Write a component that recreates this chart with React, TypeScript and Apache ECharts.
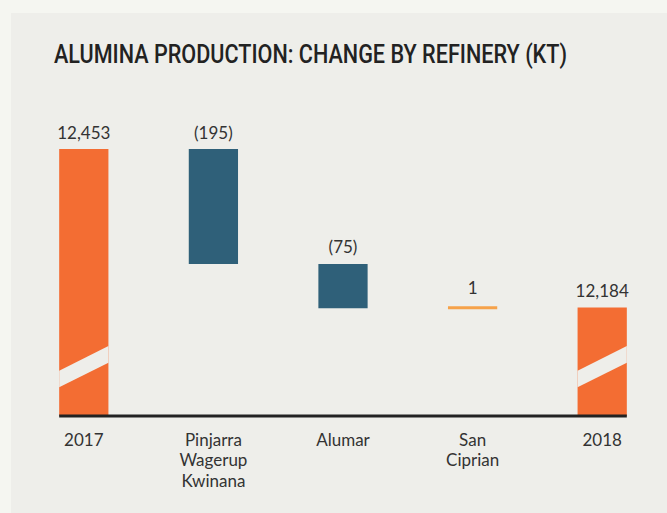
import React, { useEffect, useRef } from "react";
import * as echarts from "echarts";

const categories = ["2017", "Pinjarra\nWagerup\nKwinana", "Alumar", "San\nCiprian", "2018"];
const changes = [12453, -195, -75, 1, 12184];
const kinds = ["total", "delta", "delta", "delta", "total"];
const valueLabels = ["12,453", "(195)", "(75)", "1", "12,184"];
const axisMin = 12000;
const axisMax = 12500;

const ORANGE = "#f36d33";
const BLUE = "#2f6079";
const LIGHT_ORANGE = "#f6a24a";
const PANEL = "#eeeeea";
const OUTER = "#f5f6f1";
const FONT = "Lato, 'Open Sans', sans-serif";

export default function App() {
  const ref = useRef<HTMLDivElement>(null);
  useEffect(() => {
    document.body.style.margin = "0";
    document.body.style.background = OUTER;
    const chart = echarts.init(ref.current!, null, { renderer: "svg" });

    const rows: any[] = [];
    let running = 0;
    changes.forEach((v, i) => {
      if (kinds[i] === "total") {
        rows.push([i, axisMin, v, kinds[i], valueLabels[i]]);
        running = v;
      } else {
        const s = running;
        const e = running + v;
        rows.push([i, Math.min(s, e), Math.max(s, e), v < 0 ? "neg" : "pos", valueLabels[i]]);
        running = e;
      }
    });

    chart.setOption({
      animation: false,
      backgroundColor: OUTER,
      graphic: [
        { type: "rect", z: -10, shape: { x: 11, y: 13, width: 700, height: 520 }, style: { fill: PANEL } },
        {
          type: "text",
          x: 54,
          y: 54.5,
          scaleX: 0.865,
          style: {
            text: "ALUMINA PRODUCTION: CHANGE BY REFINERY (KT)",
            fontFamily: "Roboto, sans-serif",
            fontWeight: 500,
            fontSize: 25,
            fill: "#222",
            textVerticalAlign: "middle",
          },
        },
      ],
      grid: { left: 19, width: 652, top: 121.3, bottom: 97 },
      xAxis: {
        type: "category",
        data: categories,
        axisLine: { show: false },
        axisTick: { show: false },
        axisLabel: { color: "#333", fontSize: 17, fontFamily: FONT, lineHeight: 20.5, margin: 13 },
      },
      yAxis: { type: "value", min: axisMin, max: axisMax, show: false, splitLine: { show: false } },
      series: [
        {
          type: "custom",
          clip: false,
          data: rows,
          renderItem: (params: any, api: any) => {
            const i = api.value(0);
            const lo = api.value(1);
            const hi = api.value(2);
            const kind = rows[params.dataIndex][3];
            const label = rows[params.dataIndex][4];
            const pTop = api.coord([i, hi]);
            const pBot = api.coord([i, lo]);
            const band = api.size([1, 0])[0];
            const w = band * 0.38;
            const x0 = pTop[0] - w / 2;
            let y0 = pTop[1];
            let h = pBot[1] - pTop[1];
            if (h < 3) {
              const c = (pTop[1] + pBot[1]) / 2;
              y0 = c - 1.5;
              h = 3;
            }
            const fill = kind === "total" ? ORANGE : kind === "neg" ? BLUE : LIGHT_ORANGE;
            const children: any[] = [
              { type: "rect", shape: { x: x0, y: y0, width: w, height: h }, style: { fill } },
            ];
            if (kind === "total") {
              const b = pBot[1];
              const x1 = x0 + w;
              children.push({
                type: "polygon",
                shape: { points: [[x0, b - 28.7], [x0, b - 45.3], [x1, b - 70], [x1, b - 53.3]] },
                style: { fill: PANEL },
              });
            }
            children.push({
              type: "text",
              x: pTop[0],
              y: y0 - (kind === "pos" ? 19 : 17),
              style: {
                text: label,
                fontFamily: FONT,
                fontSize: 17,
                fill: "#333",
                textAlign: "center",
                textVerticalAlign: "middle",
              },
            });
            return { type: "group", children };
          },
        },
        {
          type: "custom",
          clip: false,
          data: [[0, categories.length - 1]],
          renderItem: (params: any, api: any) => {
            const a = api.coord([api.value(0), axisMin]);
            const b = api.coord([api.value(1), axisMin]);
            const w = api.size([1, 0])[0] * 0.38;
            return {
              type: "line",
              shape: { x1: a[0] - w / 2, y1: a[1], x2: b[0] + w / 2, y2: b[1] },
              style: { stroke: "#222", lineWidth: 3 },
            };
          },
        },
      ],
    });
    return () => chart.dispose();
  }, []);
  return <div ref={ref} style={{ position: "fixed", left: 0, top: 0, width: 667, height: 513 }} />;
}
